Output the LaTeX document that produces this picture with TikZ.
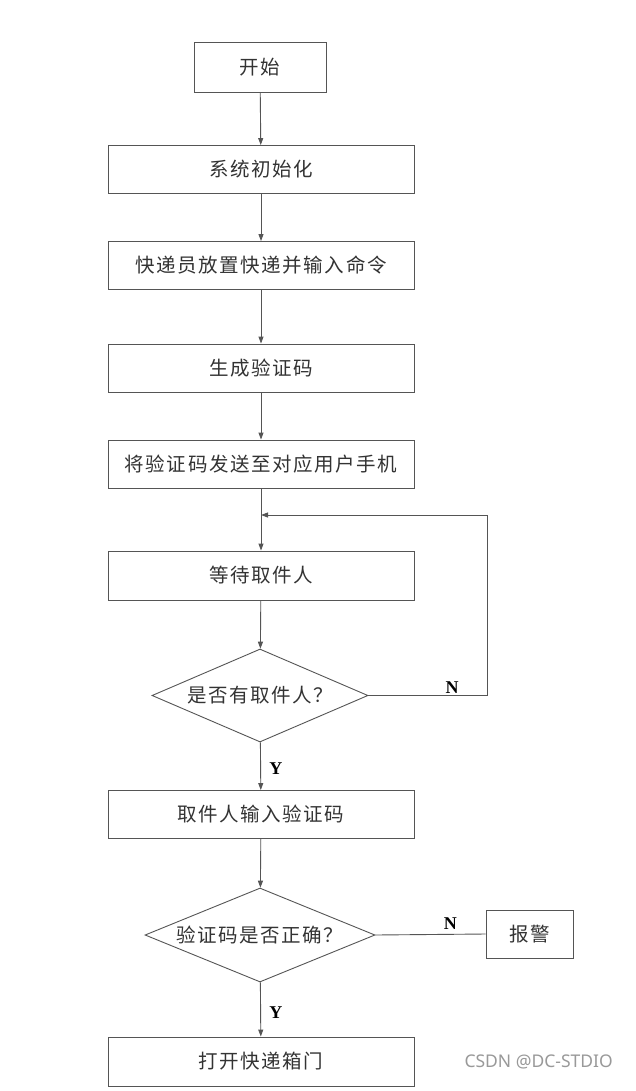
\documentclass[tikz,border=0pt]{standalone}
\usepackage{fontspec}
\setmainfont{Liberation Serif}
\newfontfamily\cjk[LetterSpace=8]{Noto Sans CJK SC}
\newfontfamily\wmfont{Noto Sans}
\usetikzlibrary{shapes.geometric,arrows.meta}
\definecolor{linecol}{HTML}{555555}
\definecolor{txtcol}{HTML}{333333}
\tikzset{
  box/.style={draw=linecol, line width=0.9pt, minimum width=306pt, minimum height=48pt, inner sep=0pt,
    font=\cjk\fontsize{19.5}{19.5}\selectfont, text=txtcol},
  decision/.style={draw=linecol, line width=0.9pt, diamond, aspect=2.3, inner sep=0pt,
    font=\cjk\fontsize{19.5}{19.5}\selectfont, text=txtcol},
  conn/.style={draw=linecol, line width=0.9pt},
  arr/.style={conn, -{Triangle[length=7pt,width=5pt]}},
  yn/.style={font=\bfseries\fontsize{18}{18}\selectfont, text=black}
}
\begin{document}
\begin{tikzpicture}[x=1pt,y=-1pt]
\useasboundingbox[fill=white] (0,0) rectangle (636,1091);
\node[box, minimum width=132pt, minimum height=50pt] (start) at (260,67) {开始};
\node[box] (init) at (261,169.5) {系统初始化};
\node[box] (courier) at (261,265.5) {快递员放置快递并输入命令};
\node[box] (gen) at (261,368) {生成验证码};
\node[box] (send) at (261,464) {将验证码发送至对应用户手机};
\node[box, minimum height=49pt] (wait) at (261,575.5) {等待取件人};
\node[decision, minimum width=216pt, minimum height=93pt] (d1) at (260,695.5) {是否有取件人？};
\node[box] (pick) at (261,814.5) {取件人输入验证码};
\node[decision, minimum width=230pt, minimum height=94pt] (d2) at (260,935) {验证码是否正确？};
\node[box, minimum width=87pt, minimum height=48pt] (alarm) at (529.5,934) {报警};
\node[box, minimum height=49pt] (open) at (261,1061.5) {打开快递箱门};

\coordinate (merge) at (261,515);
\coordinate (loopc) at (487,515);

\draw[arr] (start) -- (init);
\draw[arr] (init) -- (courier);
\draw[arr] (courier) -- (gen);
\draw[arr] (gen) -- (send);
\draw[arr] (send) -- (wait);
\draw[arr] (d1.east) -| (loopc) -- (merge);
\draw[arr] (wait) -- (d1);
\draw[arr] (d1) -- (pick) node[yn, pos=0.55, right=5pt] (y1) {Y};
\draw[arr] (pick) -- (d2);
\draw[conn] (d2.east) -- (alarm.west) node[yn, pos=0.68, above=1pt] (n2) {N};
\draw[arr] (d2) -- (open) node[yn, pos=0.55, right=5pt] (y2) {Y};
\node[yn] (n1) at (452,688) {N};

\node[font=\wmfont\fontsize{17.5}{17.5}\selectfont, text=black!40, anchor=west] (wm) at (461,1062) {CSDN @DC-STDIO};
\end{tikzpicture}
\end{document}
